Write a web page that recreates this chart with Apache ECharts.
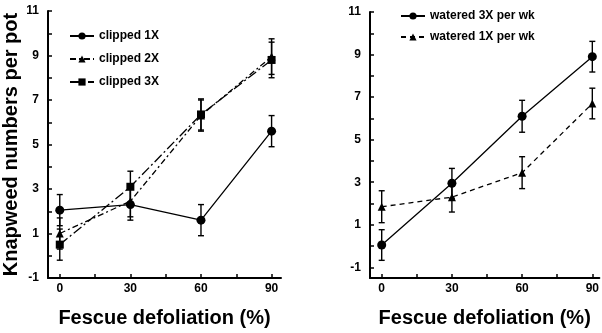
<!DOCTYPE html>
<html>
<head>
<meta charset="utf-8">
<script src="https://cdn.jsdelivr.net/npm/echarts@6/dist/echarts.min.js"></script>
<style>
  html, body { margin: 0; padding: 0; background: #fff; }
  #chart-container { width: 602px; height: 333px; }
</style>
</head>
<body>
<div id="chart-container"></div>
<script>
// defoliation levels (%)
const defoliation = [0, 30, 60, 90];

// left panel: clipping frequency
const clipped1X = [2.05, 2.3, 1.6, 5.6];
const clipped1XErr = [0.7, 0.7, 0.7, 0.7];
const clipped2X = [1.0, 2.45, 6.3, 8.95];
const clipped2XErr = [0.7, 0.7, 0.7, 0.8];
const clipped3X = [0.5, 3.1, 6.35, 8.8];
const clipped3XErr = [0.7, 0.7, 0.7, 0.8];

// right panel: watering frequency
const watered3X = [0.05, 2.95, 6.1, 8.9];
const watered3XErr = [0.72, 0.7, 0.75, 0.72];
const watered1X = [1.85, 2.3, 3.45, 6.7];
const watered1XErr = [0.75, 0.7, 0.75, 0.72];

const xTickLabels = [0, 30, 60, 90];
const xMinorTicks = [0, 15, 30, 45, 60, 75, 90];
const yTickLabels = [-1, 1, 3, 5, 7, 9, 11];
const yTicks = [-1, 0, 1, 2, 3, 4, 5, 6, 7, 8, 9, 10, 11];

const font = "Liberation Sans, Arial, sans-serif";

const dom = document.getElementById("chart-container");
const myChart = echarts.init(dom, null, { renderer: "canvas" });

const pts = (vals) => defoliation.map((x, i) => [x, vals[i]]);
const errs = (vals, e) => defoliation.map((x, i) => [x, vals[i] - e[i], vals[i] + e[i]]);

function errRender(params, api) {
  const x = api.value(0);
  const lo = api.coord([x, api.value(1)]);
  const hi = api.coord([x, api.value(2)]);
  const c = 3;
  const st = { stroke: "#000", lineWidth: 1.4 };
  return {
    type: "group",
    children: [
      { type: "line", shape: { x1: lo[0], y1: lo[1], x2: hi[0], y2: hi[1] }, style: st },
      { type: "line", shape: { x1: lo[0] - c, y1: lo[1], x2: lo[0] + c, y2: lo[1] }, style: st },
      { type: "line", shape: { x1: hi[0] - c, y1: hi[1], x2: hi[0] + c, y2: hi[1] }, style: st },
    ],
  };
}

function xAxis(idx) {
  return {
    type: "value",
    gridIndex: idx,
    min: -5,
    max: idx === 0 ? 94 : 93,
    name: "Fescue defoliation (%)",
    nameLocation: "middle",
    nameGap: 30,
    nameTextStyle: { fontFamily: font, fontWeight: "bold", fontSize: 20, color: "#000" },
    axisLine: { show: true, onZero: false, lineStyle: { color: "#000", width: 2 } },
    axisTick: { show: true, inside: true, length: 4, customValues: xMinorTicks, lineStyle: { color: "#000", width: 1.5 } },
    axisLabel: { customValues: xTickLabels, margin: 5, fontFamily: font, fontWeight: "bold", fontSize: 12, color: "#000" },
    splitLine: { show: false },
  };
}

function yAxis(idx) {
  const a = {
    type: "value",
    gridIndex: idx,
    min: idx === 0 ? -1 : -1.5,
    max: 11,
    axisLine: { show: true, onZero: false, lineStyle: { color: "#000", width: 2 } },
    axisTick: { show: true, inside: true, length: 4, customValues: yTicks, lineStyle: { color: "#000", width: 1.5 } },
    axisLabel: { customValues: yTickLabels, margin: 9, fontFamily: font, fontWeight: "bold", fontSize: 12, color: "#000" },
    splitLine: { show: false },
  };
  if (idx === 0) {
    a.name = "Knapweed numbers per pot";
    a.nameLocation = "middle";
    a.nameGap = 27;
    a.nameTextStyle = { fontFamily: font, fontWeight: "bold", fontSize: 20, color: "#000" };
  }
  return a;
}

function lineSeries(name, vals, idx, symbol, size, dash) {
  return {
    name: name,
    type: "line",
    xAxisIndex: idx,
    yAxisIndex: idx,
    data: pts(vals),
    symbol: symbol,
    symbolSize: size,
    itemStyle: { color: "#000" },
    lineStyle: { color: "#000", width: 1.3, type: dash },
    z: 3,
  };
}

function errSeries(vals, e, idx) {
  return {
    type: "custom",
    xAxisIndex: idx,
    yAxisIndex: idx,
    renderItem: errRender,
    data: errs(vals, e),
    z: 2,
    silent: true,
  };
}

const legendText = { fontFamily: font, fontWeight: "bold", fontSize: 12, color: "#000" };

const option = {
  backgroundColor: "#fff",
  animation: false,
  grid: [
    { left: 47, width: 234, top: 11, height: 268 },
    { left: 370, right: 2, top: 12, height: 268 },
  ],
  legend: [
    {
      data: ["clipped 1X", "clipped 2X", "clipped 3X"],
      orient: "vertical",
      left: 64,
      top: 25,
      itemWidth: 24,
      itemHeight: 9,
      itemGap: 11,
      textStyle: legendText,
    },
    {
      data: ["watered 3X per wk", "watered 1X per wk"],
      orient: "vertical",
      left: 395,
      top: 5,
      itemWidth: 24,
      itemHeight: 9,
      itemGap: 9,
      textStyle: legendText,
    },
  ],
  xAxis: [xAxis(0), xAxis(1)],
  yAxis: [yAxis(0), yAxis(1)],
  series: [
    errSeries(clipped1X, clipped1XErr, 0),
    errSeries(clipped2X, clipped2XErr, 0),
    errSeries(clipped3X, clipped3XErr, 0),
    lineSeries("clipped 1X", clipped1X, 0, "circle", 9, "solid"),
    lineSeries("clipped 2X", clipped2X, 0, "triangle", 8, [6, 3, 2, 3]),
    lineSeries("clipped 3X", clipped3X, 0, "rect", 8, [10, 3, 2, 3]),
    errSeries(watered3X, watered3XErr, 1),
    errSeries(watered1X, watered1XErr, 1),
    lineSeries("watered 3X per wk", watered3X, 1, "circle", 9, "solid"),
    lineSeries("watered 1X per wk", watered1X, 1, "triangle", 8, [5, 4]),
  ],
};

myChart.setOption(option);
window.addEventListener("resize", myChart.resize);
</script>
</body>
</html>
